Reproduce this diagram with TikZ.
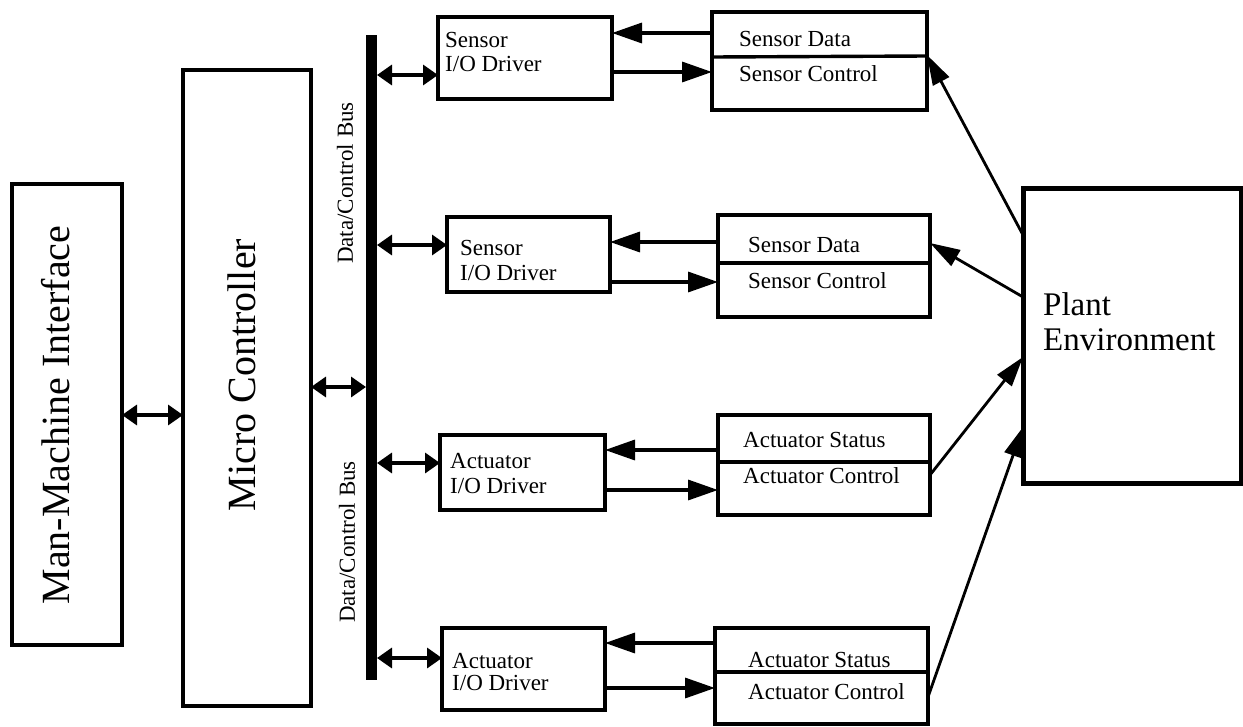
\documentclass[tikz,border=0pt]{standalone}
\usepackage{fontspec}
\setmainfont{Liberation Serif}
\usetikzlibrary{arrows.meta,calc}
\begin{document}
\begin{tikzpicture}[x=1pt,y=-1pt,
 box/.style={draw,line width=3.6pt,inner sep=0pt,outer sep=0pt,anchor=north west},
 lbl/.style={font=\fontsize{23}{27}\selectfont,inner sep=0pt,anchor=base west},
 big/.style={font=\fontsize{40}{44}\selectfont,inner sep=0pt,rotate=90},
 buslbl/.style={font=\fontsize{23}{27}\selectfont,inner sep=0pt,rotate=90},
 plbl/.style={font=\fontsize{33}{37}\selectfont,inner sep=0pt,anchor=base west},
 conn/.style={line width=3.4pt,-{Triangle[length=30pt,width=20pt]}},
 thin/.style={line width=2.8pt,-{Triangle[length=30pt,width=18pt]}},
 bi/.style={line width=3.4pt,{Triangle[length=15pt,width=20pt]}-{Triangle[length=15pt,width=20pt]}},
 divline/.style={line width=3.4pt},
]
\useasboundingbox (0,0) rectangle (1243,726);

% main boxes
\node[box,line width=4.5pt,minimum width=110pt,minimum height=461pt] (mmi) at (12,184) {};
\node[big] (mmit) at (56,415) {Man-Machine Interface};
\node[box,minimum width=128pt,minimum height=636pt] (mc) at (183,70) {};
\node[big] (mct) at (242,375) {Micro Controller};
\node[fill=black,inner sep=0pt,outer sep=0pt,minimum width=11pt,minimum height=645pt,anchor=north west] (bus) at (366,35) {};
\node[buslbl] (bl1) at (345,183) {Data/Control Bus};
\node[buslbl] (bl2) at (347,542) {Data/Control Bus};
\node[box,line width=5pt,minimum width=218pt,minimum height=295pt] (pl) at (1023,188) {};
\node[plbl] (plt1) at (1043,315) {Plant};
\node[plbl] (plt2) at (1043,350) {Environment};

% drivers
\node[box,minimum width=174pt,minimum height=82pt] (sd1) at (438,17) {};
\node[lbl] (sd1a) at (445,47) {Sensor};
\node[lbl] (sd1b) at (445,71) {I/O Driver};
\node[box,minimum width=163pt,minimum height=75pt] (sd2) at (447,217) {};
\node[lbl] (sd2a) at (460,255) {Sensor};
\node[lbl] (sd2b) at (460,280) {I/O Driver};
\node[box,minimum width=165pt,minimum height=75pt] (ad1) at (440,435) {};
\node[lbl] (ad1a) at (450,468) {Actuator};
\node[lbl] (ad1b) at (450,493) {I/O Driver};
\node[box,minimum width=163pt,minimum height=82pt] (ad2) at (442,628) {};
\node[lbl] (ad2a) at (452,668) {Actuator};
\node[lbl] (ad2b) at (452,690) {I/O Driver};

% signal boxes
\node[box,minimum width=215pt,minimum height=98pt] (sb1) at (712,12) {};
\draw[divline] (sb1.west |- 0,57) -- (sb1.east |- 0,56);
\node[lbl] (sb1a) at (739,46) {Sensor Data};
\node[lbl] (sb1b) at (739,81) {Sensor Control};
\node[box,minimum width=212pt,minimum height=102pt] (sb2) at (718,215) {};
\draw[divline] (sb2.west |- 0,263) -- (sb2.east |- 0,263);
\node[lbl] (sb2a) at (748,252) {Sensor Data};
\node[lbl] (sb2b) at (748,288) {Sensor Control};
\node[box,minimum width=212pt,minimum height=100pt] (ab1) at (718,415) {};
\draw[divline] (ab1.west |- 0,462) -- (ab1.east |- 0,462);
\node[lbl] (ab1a) at (743,447) {Actuator Status};
\node[lbl] (ab1b) at (743,483) {Actuator Control};
\node[box,minimum width=213pt,minimum height=96pt] (ab2) at (715,628) {};
\draw[divline] (ab2.west |- 0,672) -- (ab2.east |- 0,672);
\node[lbl] (ab2a) at (748,667) {Actuator Status};
\node[lbl] (ab2b) at (748,699) {Actuator Control};

% bidirectional
\draw[bi] (mmi.east |- 0,415) -- (mc.west |- 0,415);
\draw[bi] (mc.east |- 0,387) -- (bus.west |- 0,387);
\draw[bi] (bus.east |- 0,75) -- (sd1.west |- 0,75);
\draw[bi] (bus.east |- 0,245) -- (sd2.west |- 0,245);
\draw[bi] (bus.east |- 0,463) -- (ad1.west |- 0,463);
\draw[bi] (bus.east |- 0,658) -- (ad2.west |- 0,658);

% driver <-> boxes
\draw[conn] (sb1.west |- 0,33) -- (sd1.east |- 0,33);
\draw[conn] (sd1.east |- 0,72) -- (sb1.west |- 0,72);
\draw[conn] (sb2.west |- 0,242) -- (sd2.east |- 0,242);
\draw[conn] (sd2.east |- 0,282) -- (sb2.west |- 0,282);
\draw[conn] (ab1.west |- 0,450) -- (ad1.east |- 0,450);
\draw[conn] (ad1.east |- 0,490) -- (ab1.west |- 0,490);
\draw[conn] (ab2.west |- 0,643) -- (ad2.east |- 0,643);
\draw[conn] (ad2.east |- 0,688) -- (ab2.west |- 0,688);

% plant links
\draw[thin] (pl.west |- 0,235) -- (sb1.east |- 0,55);
\draw[thin] (pl.west |- 0,297) -- (sb2.east |- 0,243);
\draw[thin] (ab1.east |- 0,475) -- (pl.west |- 0,357);
\draw[thin] (ab2.east |- 0,697) -- (pl.west |- 0,427);
\end{tikzpicture}
\end{document}
